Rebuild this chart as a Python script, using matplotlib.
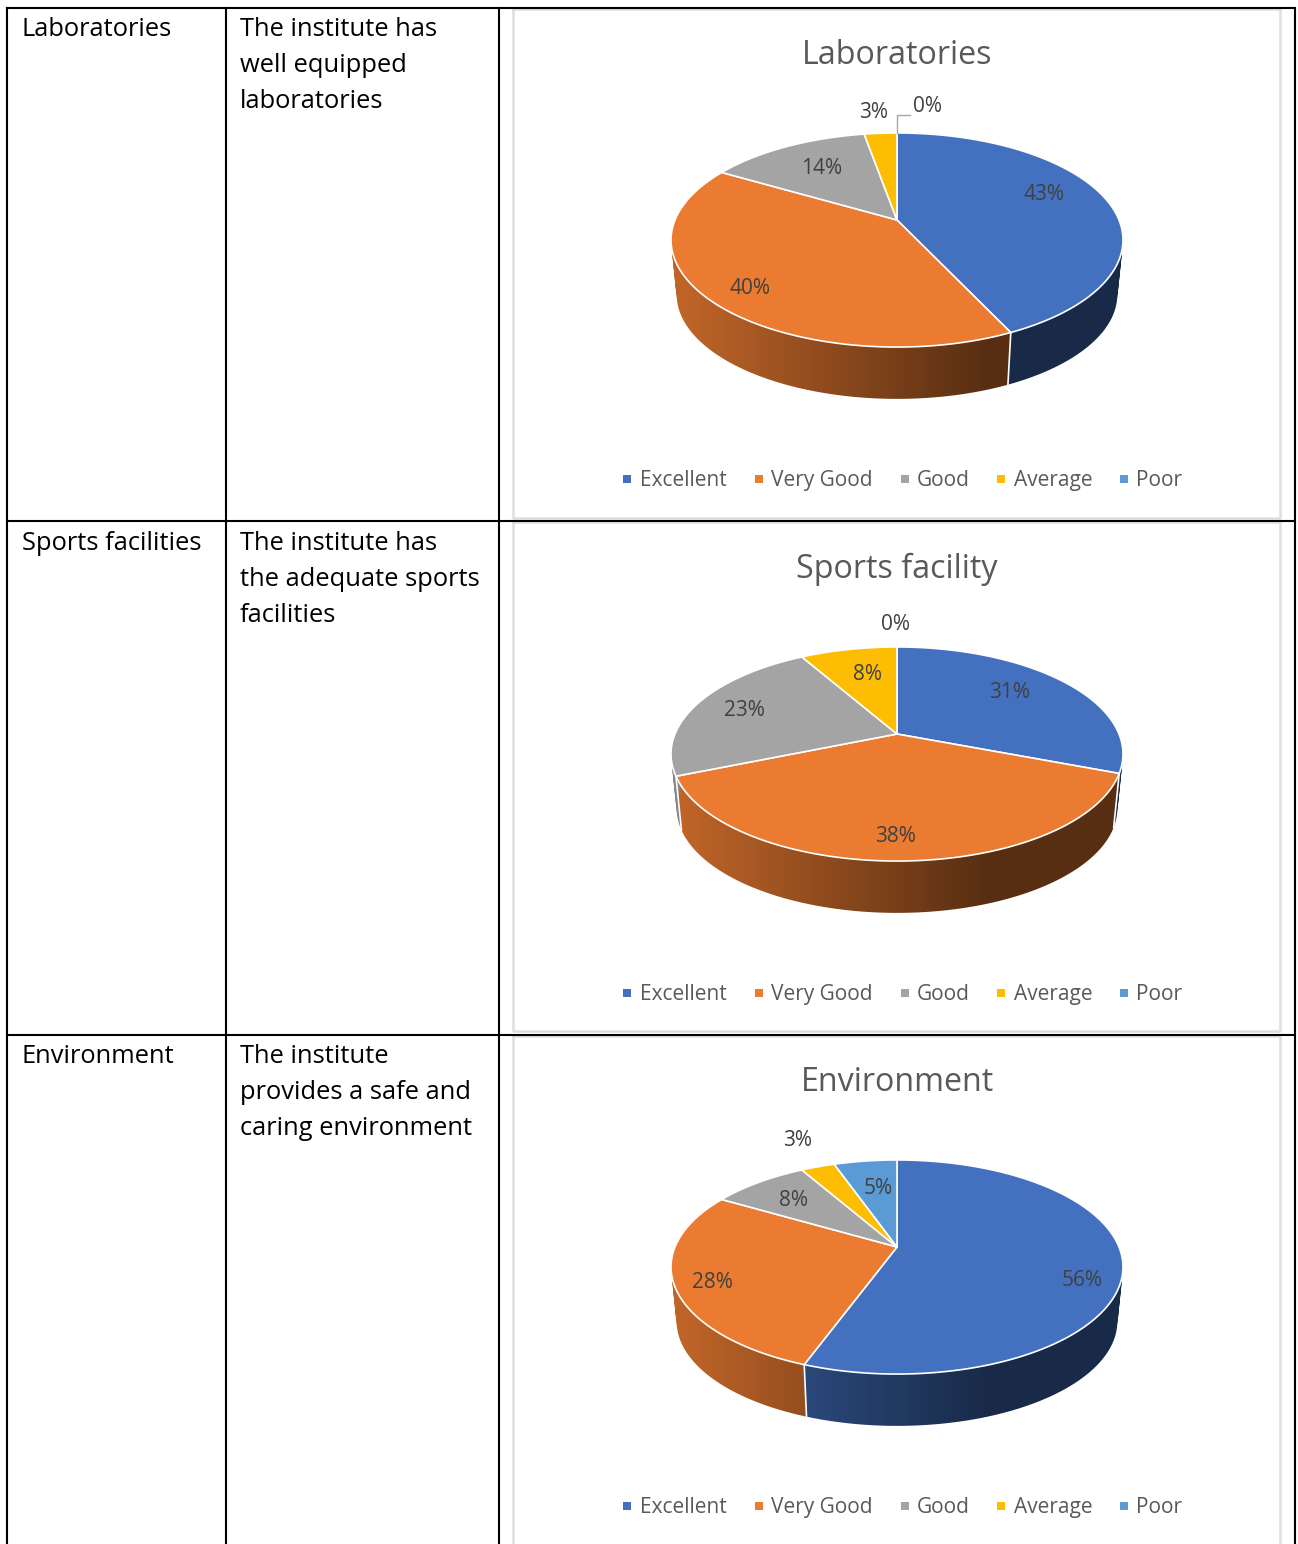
import numpy as np
import matplotlib
matplotlib.use('Agg')
import matplotlib.pyplot as plt
from matplotlib.path import Path
from matplotlib.patches import PathPatch

plt.rcParams['font.family'] = ['Open Sans', 'DejaVu Sans']

categories = ['Excellent', 'Very Good', 'Good', 'Average', 'Poor']
colors = ['#4371C0', '#EA7B31', '#A4A4A4', '#FDBD02', '#5B9BD5']

chart_titles = ['Laboratories', 'Sports facility', 'Environment']
laboratories = [43.0, 40.4, 13.8, 2.8, 0]
sports = [30.8, 38.0, 22.9, 8.3, 0]
environment = [55.6, 27.8, 8.3, 2.9, 5.4]

row_names = ['Laboratories', 'Sports facilities', 'Environment']
row_text = [
    ['The institute has', 'well equipped', 'laboratories'],
    ['The institute has', 'the adequate sports', 'facilities'],
    ['The institute', 'provides a safe and', 'caring environment'],
]

# layout, all in pixels of the final picture
W, H = 1298, 1544
CX = 897
APEX_Y = [220, 734, 1247]
ROW_TOP = [8, 521, 1035]
TEXT_BASE = [36, 550, 1063]
FRAME_Y = [(9, 518), (522, 1031), (1036, 1560)]
TITLE_BASE = [64, 578, 1091]
LEGEND_BASE = [486, 1000, 1513]
LEGEND_Y = [479, 993, 1506]
LEGEND_MARK_X = [627, 759, 905, 1001, 1124]
LEGEND_TEXT_X = [640, 771, 917, 1014, 1136]
LABEL_XY = [
    [(1044, 195), (750, 289), (822, 169), (874, 113), (928, 107)],
    [(1010, 693), (896, 837), (744, 711), (868, 675), (896, 625)],
    [(1082, 1280), (712, 1283), (794, 1201), (798, 1141), (878, 1189)],
]

# perspective of the pie top
A, B, K = 103.3, 222.0, 0.187
RIM_DROP, RIM_SCALE = 55, 0.975


def project(t, apex_y, rim=False):
    x = np.sin(t)
    z = np.cos(t)
    d = 1 + K * z
    sx = B * x / d
    sy = -A * z / d
    if rim:
        return CX + RIM_SCALE * sx, apex_y + RIM_SCALE * sy + RIM_DROP
    return CX + sx, apex_y + sy


def shade(xs):
    # side of the pie goes dark from left to right
    return np.interp(xs, [680, 985], [0.82, 0.38])


def side_path(tx, ty, bx, by):
    # one quad per step, all turned the same way so the union fills cleanly
    verts, codes = [], []
    for j in range(len(tx) - 1):
        quad = [(tx[j], ty[j]), (tx[j + 1], ty[j + 1]), (bx[j + 1], by[j + 1]), (bx[j], by[j])]
        q = np.array(quad)
        area = np.sum(q[:, 0] * np.roll(q[:, 1], -1) - np.roll(q[:, 0], -1) * q[:, 1])
        if area < 0:
            quad = quad[::-1]
        verts += quad + [quad[0]]
        codes += [Path.MOVETO, Path.LINETO, Path.LINETO, Path.LINETO, Path.CLOSEPOLY]
    return Path(verts, codes)


fig = plt.figure(figsize=(W / 100, H / 100), dpi=100)
ax = fig.add_axes([0, 0, 1, 1])

# chart frames
for y0, y1 in FRAME_Y:
    ax.plot([513, 513, 1280, 1280, 513], [y0, y1, y1, y0, y0], color='#DEDEDE', lw=1.8, zorder=1)

# table lines
for y in ROW_TOP:
    ax.plot([7, 1295], [y, y], color='black', lw=1.5, zorder=2)
for x in [7, 226, 499, 1295]:
    ax.plot([x, x], [8, H], color='black', lw=1.5, zorder=2)

# table text
for i in range(3):
    ax.text(22, TEXT_BASE[i], row_names[i], fontsize=18.4, color='black', va='baseline', zorder=3)
    for j, line in enumerate(row_text[i]):
        ax.text(240, TEXT_BASE[i] + j * 36, line, fontsize=18.4, color='black', va='baseline', zorder=3)

all_values = [laboratories, sports, environment]
xcols = np.arange(665, 1130)
for c, values in enumerate(all_values):
    apex = APEX_Y[c]
    edges = np.cumsum([0] + values) / sum(values) * 2 * np.pi

    # sides first, tops cover whatever is behind
    for i, v in enumerate(values):
        if v == 0:
            continue
        t = np.linspace(edges[i], edges[i + 1], 120)
        tx, ty = project(t, apex)
        bx, by = project(t, apex, rim=True)
        rgb = np.array(matplotlib.colors.to_rgb(colors[i]))
        img = shade(xcols)[None, :, None] * rgb[None, None, :]
        im = ax.imshow(img, extent=(xcols[0], xcols[-1], apex + 200, apex - 100), aspect='auto',
                       interpolation='bilinear', zorder=4)
        im.set_clip_path(PathPatch(side_path(tx, ty, bx, by), transform=ax.transData))

    # white seams on the front of the side
    for e in edges[:-1]:
        if np.cos(e) < 0:
            tx, ty = project(e, apex)
            bx, by = project(e, apex, rim=True)
            ax.plot([tx, bx], [ty, by], color='white', lw=1.2, zorder=5)

    # pie top
    for i, v in enumerate(values):
        if v == 0:
            continue
        t = np.linspace(edges[i], edges[i + 1], 120)
        tx, ty = project(t, apex)
        ax.fill(np.r_[CX, tx], np.r_[apex, ty], facecolor=colors[i], edgecolor='white', lw=1.2,
                joinstyle='round', zorder=6)

    # percent labels
    for i, v in enumerate(values):
        lx, ly = LABEL_XY[c][i]
        ax.text(lx, ly, f'{v:.0f}%', fontsize=15, color='#404040', ha='center', va='center', zorder=8)

    ax.text(CX, TITLE_BASE[c], chart_titles[c], fontsize=23.2, color='#595959', ha='center', va='baseline', zorder=8)

    # legend
    for i, name in enumerate(categories):
        ax.plot(LEGEND_MARK_X[i], LEGEND_Y[c], marker='s', ms=5.2, color=colors[i], mew=0, zorder=8)
        ax.text(LEGEND_TEXT_X[i], LEGEND_BASE[c], name, fontsize=15, color='#595959', va='baseline', zorder=8)

# leader line of the 0% label on the first chart
ax.plot([CX, CX, 910], [APEX_Y[0] - 87, 115, 115], color='#A6A6A6', lw=1, zorder=7)

ax.set_xlim(0, W)
ax.set_ylim(H, 0)
ax.axis('off')

fig.savefig('out.png', dpi=100)
